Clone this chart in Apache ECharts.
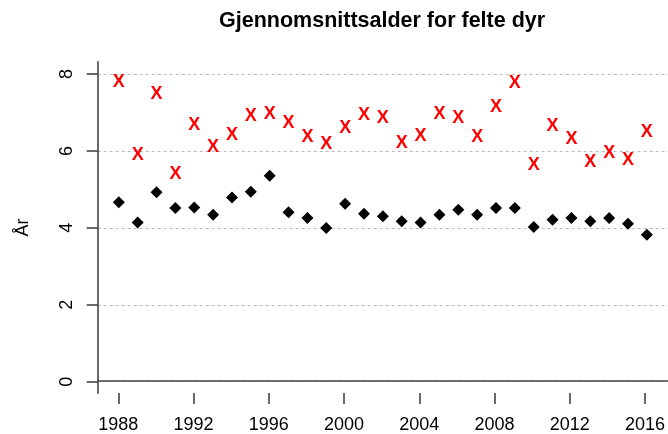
<!DOCTYPE html>
<html>
<head>
<meta charset="utf-8">
<script src="https://cdn.jsdelivr.net/npm/echarts@6/dist/echarts.min.js"></script>
<style>
html,body{margin:0;padding:0;background:#fff;}
#chart{width:668px;height:434px;}
</style>
</head>
<body>
<div id="chart"></div>
<script>
var titleText = "Gjennomsnittsalder for felte dyr";
var yAxisTitle = "År";
var years = [1988,1989,1990,1991,1992,1993,1994,1995,1996,1997,1998,1999,2000,2001,2002,
             2003,2004,2005,2006,2007,2008,2009,2010,2011,2012,2013,2014,2015,2016];
var redValues = [7.78,5.89,7.48,5.40,6.68,6.09,6.42,6.91,6.96,6.73,6.35,6.18,6.58,6.92,6.85,
                 6.20,6.39,6.96,6.85,6.35,7.15,7.76,5.63,6.65,6.31,5.70,5.93,5.76,6.50];
var blackValues = [4.66,4.13,4.92,4.51,4.52,4.33,4.78,4.93,5.35,4.40,4.25,3.99,4.62,4.36,4.29,
                   4.16,4.13,4.33,4.46,4.33,4.51,4.51,4.01,4.20,4.25,4.16,4.25,4.10,3.81];
var xTickStart = 1988, xTickEnd = 2016, xTickStep = 4;
var yTickStart = 0, yTickEnd = 8, yTickStep = 2;

function pairs(vals){ return years.map(function(y,i){ return [y, vals[i]]; }); }

var font = "'Liberation Sans', Arial, sans-serif";
var axisCol = '#444444';
var padX = (xTickEnd - xTickStart) * 0.04;
var padY = (yTickEnd - yTickStart) * 0.04;

var chart = echarts.init(document.getElementById('chart'), null, {renderer:'canvas'});
chart.setOption({
  animation: false,
  backgroundColor: '#ffffff',
  title: {
    text: titleText,
    left: 219,
    top: 10,
    padding: 0,
    textStyle: {fontFamily: font, fontWeight: 'bold', fontSize: 21.5, color: '#000'}
  },
  grid: [
    {left: 97.7, right: -1, top: 61.7, bottom: 40.7},
    {left: 97.7, right: -1, top: 74, bottom: 52.3},
    {left: 118.3, right: 20.3, top: 61.7, bottom: 40.7}
  ],
  xAxis: [
    {gridIndex: 0, type: 'value', min: xTickStart - padX, max: xTickEnd + padX,
     axisLine: {show: true, lineStyle: {color: axisCol, width: 1.6}},
     axisTick: {show: false}, axisLabel: {show: false}, splitLine: {show: false}},
    {gridIndex: 1, type: 'value', min: 0, max: 1, show: false},
    {gridIndex: 2, type: 'value', min: xTickStart, max: xTickEnd, interval: xTickStep,
     axisLine: {show: false},
     axisTick: {show: true, length: 11, lineStyle: {color: axisCol, width: 1.6}},
     axisLabel: {show: true, margin: 23, fontFamily: font, fontSize: 18, color: '#000',
                 formatter: function(v){ return String(v); }},
     splitLine: {show: false}}
  ],
  yAxis: [
    {gridIndex: 0, type: 'value', min: yTickStart - padY, max: yTickEnd + padY,
     name: yAxisTitle, nameLocation: 'middle', nameGap: 66, nameRotate: 90,
     nameTextStyle: {fontFamily: font, fontSize: 18, color: '#000'},
     axisLine: {show: true, lineStyle: {color: axisCol, width: 1.6}},
     axisTick: {show: false}, axisLabel: {show: false}, splitLine: {show: false}},
    {gridIndex: 1, type: 'value', min: yTickStart, max: yTickEnd, interval: yTickStep,
     axisLine: {show: false},
     axisTick: {show: true, length: 11, lineStyle: {color: axisCol, width: 1.6}},
     axisLabel: {show: true, rotate: 90, margin: 22, fontFamily: font, fontSize: 18, color: '#000'},
     splitLine: {show: true, lineStyle: {color: '#b8b8b8', type: [3,3], width: 1}}},
    {gridIndex: 2, type: 'value', min: 0, max: 1, show: false}
  ],
  series: [
    {
      name: 'X', type: 'scatter', xAxisIndex: 0, yAxisIndex: 0,
      data: pairs(redValues),
      symbol: 'circle', symbolSize: 2,
      itemStyle: {color: 'rgba(255,0,0,0)', opacity: 1},
      label: {show: true, position: 'inside', formatter: 'X', color: '#ff0000', opacity: 1,
              fontFamily: font, fontWeight: 'bold', fontSize: 18},
      z: 3
    },
    {
      name: 'diamond', type: 'scatter', xAxisIndex: 0, yAxisIndex: 0,
      data: pairs(blackValues),
      symbol: 'diamond', symbolSize: [12, 12],
      itemStyle: {color: '#000000', opacity: 1},
      z: 3
    }
  ]
});
</script>
</body>
</html>
